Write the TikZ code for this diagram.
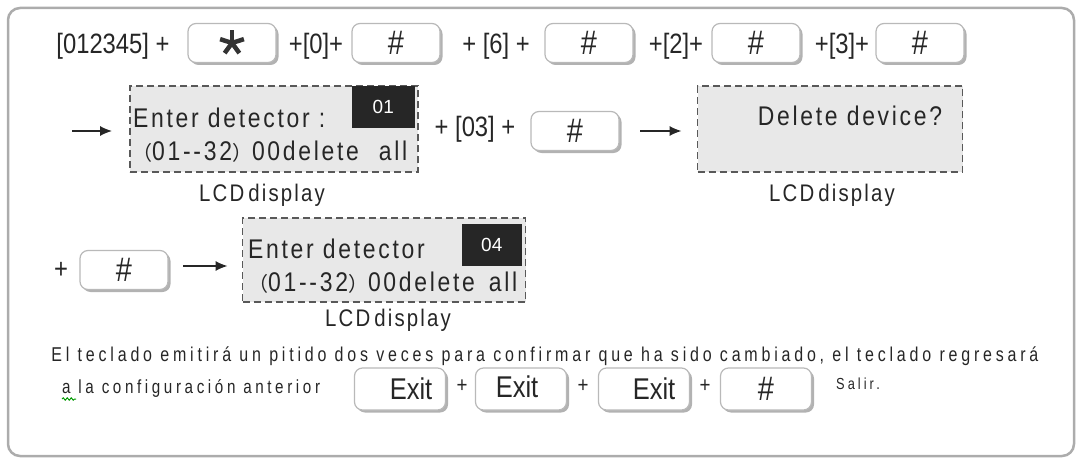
\documentclass[tikz,border=0pt]{standalone}
\usepackage{fontspec}
\setmainfont{Liberation Sans}
\newfontfamily\narrowfont[FakeStretch=0.85]{Liberation Sans}
\newfontfamily\lcdfont[FakeStretch=0.85, LetterSpace=10]{Liberation Sans}
\newfontfamily\capfont[FakeStretch=0.85, LetterSpace=9]{Liberation Sans}
\newfontfamily\notefont[FakeStretch=0.8, LetterSpace=19]{Liberation Sans}
\newfontfamily\cjk{Noto Sans CJK SC}
\usetikzlibrary{arrows.meta,shadows,decorations.pathmorphing}
\tikzset{
	key/.style={draw=gray!55, line width=1.2pt, fill=white, rounded corners=8pt,
		minimum width=88pt, minimum height=39pt, inner sep=0pt, text=black!85,
		drop shadow={shadow xshift=2.5pt, shadow yshift=-2.5pt, fill=gray!60, opacity=1},
		font=\narrowfont\fontsize{34}{34}\selectfont},
	exitkey/.style={key, minimum width=91pt, minimum height=42pt, font=\narrowfont\fontsize{30}{30}\selectfont},
	lcd/.style={draw=black!65, dash pattern=on 7pt off 4pt, line width=1.8pt, fill=gray!18, inner sep=0pt},
	tag/.style={fill=black!85, text=white, inner sep=0pt, font=\fontsize{19}{19}\selectfont},
	txt/.style={text=black!85, inner sep=0pt, font=\narrowfont\fontsize{28}{28}\selectfont},
	plus/.style={text=black!85, inner sep=0pt, font=\narrowfont\fontsize{22}{22}\selectfont},
	lcdtxt/.style={text=black!85, inner sep=0pt, font=\lcdfont\fontsize{27}{27}\selectfont},
	caption/.style={text=black!85, inner sep=0pt, font=\capfont\fontsize{24}{24}\selectfont},
	note/.style={text=black!85, inner sep=0pt, font=\notefont\fontsize{20}{20}\selectfont},
	arr/.style={-{Latex[length=12pt,width=10pt]}, line width=1.5pt, draw=black!85},
}
\begin{document}
\begin{tikzpicture}[x=1pt, y=-1pt]
	\useasboundingbox (0,0) rectangle (1079,460);
	% frame
	\draw[draw=gray!65, line width=2.5pt, rounded corners=12pt] (8,8) rectangle (1074,456);
	% row 1
	\node[txt]  (r1a)   at (113,46) {[012345] +};
	\node[key]  (kstar) at (232,43) {};
	\foreach \a in {90,162,234,306,378}
		\draw[line width=4.5pt, draw=black!80] (kstar.center) -- ++(\a:12.5pt);
	\node[txt]  (r1b)   at (316,46) {+[0]+};
	\node[key]  (kh1)   at (396,43) {\#};
	\node[txt]  (r1c)   at (496,46) {+ [6] +};
	\node[key]  (kh2)   at (589,43) {\#};
	\node[txt]  (r1d)   at (676,46) {+[2]+};
	\node[key]  (kh3)   at (756,43) {\#};
	\node[txt]  (r1e)   at (842,46) {+[3]+};
	\node[key]  (kh4)   at (920,43) {\#};
	% row 2
	\coordinate (a1s) at (72,131);
	\node[lcd, minimum width=288pt, minimum height=86pt] (lcd1) at (274,129) {};
	\node[tag, minimum width=63pt, minimum height=42pt, anchor=north east] (t01) at (415,86) {01};
	\node[lcdtxt, anchor=base west] (l1a) at (133,127) {Enter detector :};
	\node[lcdtxt, anchor=base west] (l1b) at (132,160) {{\cjk\fontsize{20}{20}\selectfont（}01-{}-32{\cjk\fontsize{20}{20}\selectfont）}00delete\hspace{20pt}all};
	\draw[arr, shorten >=17pt] (a1s) -- (a1s -| lcd1.west);
	\node[caption] (c1) at (262,195) {LCD\,display};
	\node[txt]  (r2a)   at (475,129) {+ [03] +};
	\node[key]  (kh5)   at (575,131) {\#};
	\coordinate (a2s) at (640,131);
	\node[lcd, minimum width=265pt, minimum height=86pt] (lcd2) at (830,129) {};
	\node[lcdtxt] (l2a) at (850,116) {Delete device?};
	\draw[arr, shorten >=15pt] (a2s) -- (a2s -| lcd2.west);
	\node[caption] (c2) at (832,195) {LCD\,display};
	% row 3
	\node[txt]  (r3a)   at (61,270) {+};
	\node[key]  (kh6)   at (124,270) {\#};
	\coordinate (a3s) at (183,266);
	\node[lcd, minimum width=283pt, minimum height=84pt] (lcd3) at (384,260) {};
	\node[tag, minimum width=60pt, minimum height=42pt, anchor=north east] (t04) at (522,224) {04};
	\node[lcdtxt, anchor=base west] (l3a) at (248,258) {Enter detector};
	\node[lcdtxt, anchor=base west] (l3b) at (248,291) {{\cjk\fontsize{20}{20}\selectfont（}01-{}-32{\cjk\fontsize{20}{20}\selectfont）}00delete\hspace{14pt}all};
	\draw[arr, shorten >=14pt] (a3s) -- (a3s -| lcd3.west);
	\node[caption] (c3) at (388,320) {LCD\,display};
	% rows 4 and 5
	\node[note] (n1) at (545,356) {El teclado emitirá un pitido dos veces para confirmar que ha sido cambiado, el teclado regresará};
	\node[note, anchor=west, font=\notefont\fontsize{19}{19}\selectfont] (n2) at (62,388) {a la configuración anterior};
	\draw[draw=green!60!black, line width=1pt, decorate, decoration={snake, amplitude=1.2pt, segment length=4pt}] (62,399) -- (76,399);
	\node[exitkey] (kx1) at (400,389) {\hspace{22pt}Exit};
	\node[plus]    (p1)  at (462,386) {+};
	\node[exitkey] (kx2) at (521,389) {\raisebox{4pt}{Exit\hspace{8pt}}};
	\node[plus]    (p2)  at (583,386) {+};
	\node[exitkey] (kx3) at (644,389) {\raisebox{-3pt}{\hspace{20pt}Exit}};
	\node[plus]    (p3)  at (705,386) {+};
	\node[exitkey, font=\narrowfont\fontsize{34}{34}\selectfont] (kh7) at (766,389) {\#};
	\node[note, font=\notefont\fontsize{16}{16}\selectfont] (s1) at (858,384) {Salir.};
\end{tikzpicture}
\end{document}
